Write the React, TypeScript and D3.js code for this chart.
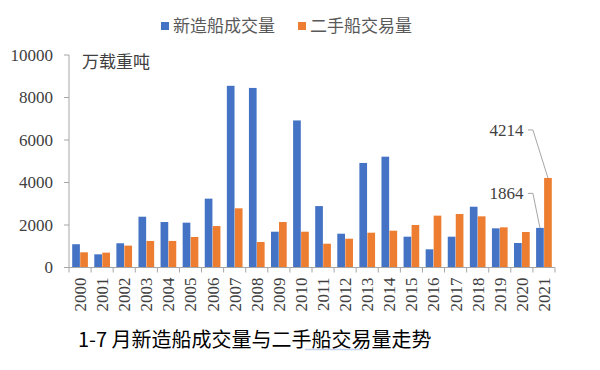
import React from "react";
import * as d3 from "d3";

// 1-7月数据，单位：万载重吨
const years = [
  "2000", "2001", "2002", "2003", "2004", "2005", "2006", "2007", "2008", "2009", "2010",
  "2011", "2012", "2013", "2014", "2015", "2016", "2017", "2018", "2019", "2020", "2021",
];
const newBuild = [
  1095, 620, 1140, 2390, 2140, 2110, 3240, 8550, 8450, 1685, 6920,
  2890, 1590, 4920, 5215, 1450, 855, 1450, 2860, 1843, 1153, 1864,
];
const secondHand = [
  715, 700, 1030, 1250, 1250, 1435, 1950, 2785, 1200, 2140, 1685,
  1120, 1355, 1638, 1732, 2000, 2440, 2518, 2408, 1890, 1670, 4214,
];
const yTicks = [0, 2000, 4000, 6000, 8000, 10000];
const seriesNames = ["新造船成交量", "二手船交易量"];
const colors = ["#4472C4", "#ED7D31"];

const W = 600;
const H = 370;
const left = 69;
const right = 555;
const top = 55;
const bottom = 267.5;

const serif = "'Liberation Serif', 'DejaVu Serif', serif";
const cjk = "'Noto Sans CJK SC', sans-serif";

const App = () => {
  const x = d3.scaleBand().domain(years).range([left, right]);
  const inner = d3
    .scaleBand()
    .domain(["0", "1"])
    .range([0, x.bandwidth()])
    .paddingInner(0.04)
    .paddingOuter(0.4);
  const y = d3.scaleLinear().domain([0, 10000]).range([bottom, top]);
  const series = [newBuild, secondHand];

  // 2021年两个数据标签
  const last = years.length - 1;
  const lastX = x(years[last]) as number;
  const notes = [
    { s: 1, v: secondHand[last], dy: 48 },
    { s: 0, v: newBuild[last], dy: 34.5 },
  ];

  return (
    <svg width={W} height={H} style={{ position: "absolute", left: 0, top: 0, background: "#fff" }}>
      {/* legend */}
      {seriesNames.map((n, i) => (
        <g key={n} transform={`translate(${i === 0 ? 161 : 298},0)`}>
          <rect x={0} y={22} width={8} height={8} fill={colors[i]} />
          <text x={12} y={32} fontFamily={cjk} fontSize={17} fill="#595959">
            {n}
          </text>
        </g>
      ))}

      <text x={82} y={68} fontFamily={cjk} fontSize={17} fill="#404040">
        万载重吨
      </text>

      {/* bars */}
      {series.map((vals, s) =>
        vals.map((v, i) => (
          <rect
            key={`${s}-${i}`}
            x={(x(years[i]) as number) + (inner(String(s)) as number)}
            y={y(v)}
            width={inner.bandwidth()}
            height={bottom - y(v)}
            fill={colors[s]}
          />
        ))
      )}

      {/* y axis */}
      <line x1={left} x2={left} y1={top} y2={bottom} stroke="#a6a6a6" />
      {yTicks.map((t) => (
        <g key={t}>
          <line x1={left - 5} x2={left} y1={y(t)} y2={y(t)} stroke="#a6a6a6" />
          <text
            x={left - 16}
            y={y(t)}
            dy="0.35em"
            textAnchor="end"
            fontFamily={serif}
            fontSize={17}
            fill="#404040"
          >
            {t}
          </text>
        </g>
      ))}

      {/* x axis */}
      <line x1={left} x2={right} y1={bottom} y2={bottom} stroke="#a6a6a6" />
      {[...years, "end"].map((d, i) => {
        const px = i < years.length ? (x(d) as number) : right;
        return <line key={d} x1={px} x2={px} y1={bottom} y2={bottom + 5} stroke="#a6a6a6" />;
      })}
      {years.map((d) => {
        const cx = (x(d) as number) + x.bandwidth() / 2;
        return (
          <text
            key={d}
            transform={`translate(${cx},${bottom + 10}) rotate(-90)`}
            textAnchor="end"
            dy="0.35em"
            fontFamily={serif}
            fontSize={17}
            fill="#404040"
          >
            {d}
          </text>
        );
      })}

      {/* data labels with leader lines */}
      {notes.map((n) => {
        const bx = lastX + (inner(String(n.s)) as number) + inner.bandwidth() / 2;
        const by = y(n.v);
        const ly = by - n.dy;
        return (
          <g key={n.s}>
            <polyline
              points={`${lastX - 5},${ly} ${lastX},${ly} ${bx},${by}`}
              fill="none"
              stroke="#a6a6a6"
            />
            <text
              x={lastX - 9.5}
              y={ly}
              dy="0.35em"
              textAnchor="end"
              fontFamily={serif}
              fontSize={17}
              fill="#404040"
            >
              {n.v}
            </text>
          </g>
        );
      })}

      {/* title */}
      <line x1={305} x2={363} y1={349.5} y2={349.5} stroke="#c5d3f0" strokeWidth={1.5} />
      <text x={78} y={347} fontFamily={cjk} fontSize={20} fontWeight={400} fill="#000">
        1-7 月新造船成交量与二手船交易量走势
      </text>
    </svg>
  );
};

export default App;
